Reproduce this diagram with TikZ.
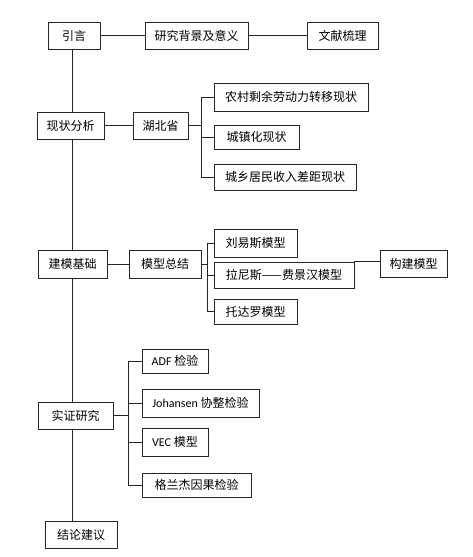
\documentclass[tikz,border=0pt]{standalone}
\usepackage{fontspec}
\setmainfont{Noto Sans CJK SC}
\newfontfamily\latinfont{Carlito}
\usetikzlibrary{positioning,backgrounds}

\begin{document}
\begin{tikzpicture}[x=1pt,y=-1pt,% one unit is one pixel of the reference, y runs down
        every node/.style={font=\fontsize{12}{14}\selectfont},
        box/.style={draw=black!85, line width=0.9pt, fill=white, inner sep=0pt},
        link/.style={draw=black!85, line width=0.9pt}]
\useasboundingbox (0,0) rectangle (472,557);

% left column
\node[box, minimum width=52, minimum height=27] (yinyan) at (74,35.5) {引言};
\node[box, minimum width=67, minimum height=27] (xianzhuang) at (70.5,125.5) {现状分析};
\node[box, minimum width=69, minimum height=28] (jianmo) at (72.5,264) {建模基础};
\node[box, minimum width=75, minimum height=27] (shizheng) at (75.5,415.5) {实证研究};
\node[box, minimum width=72, minimum height=27] (jielun) at (81,534.5) {结论建议};

% first row
\node[box, minimum width=103, minimum height=27] (beijing) at (196.5,35.5) {研究背景及意义};
\node[box, minimum width=71, minimum height=27] (wenxian) at (342.5,35.5) {文献梳理};

% status
\node[box, minimum width=55, minimum height=27] (hubei) at (160.5,125.5) {湖北省};
\node[box, minimum width=154, minimum height=28] (nongcun) at (291,97) {农村剩余劳动力转移现状};
\node[box, minimum width=85, minimum height=24] (chengzhen) at (256.5,137) {城镇化现状};
\node[box, minimum width=142, minimum height=26] (chengxiang) at (285,177) {城乡居民收入差距现状};

% models
\node[box, minimum width=72, minimum height=28] (zongjie) at (165,264) {模型总结};
\node[box, minimum width=83, minimum height=28] (lewis) at (255.5,243) {刘易斯模型};
\node[box, minimum width=140, minimum height=26] (ranis) at (284,275) {拉尼斯——费景汉模型};
\node[box, minimum width=83, minimum height=25] (todaro) at (255.5,311.5) {托达罗模型};
\node[box, minimum width=67, minimum height=27] (goujian) at (413.5,263.5) {构建模型};

% tests
\node[box, minimum width=66, minimum height=24] (adf) at (175,361) {{\latinfont ADF} 检验};
\node[box, minimum width=117, minimum height=28] (johansen) at (200.5,403) {{\latinfont Johansen} 协整检验};
\node[box, minimum width=66, minimum height=28] (vec) at (175,442) {{\latinfont VEC} 模型};
\node[box, minimum width=109, minimum height=24] (granger) at (196.5,485) {格兰杰因果检验};

% branch columns
\coordinate (spine) at (72,0);
\coordinate (fork1) at (201,0);
\coordinate (fork2) at (207,0);
\coordinate (fork3) at (128,0);

\begin{scope}[on background layer]
\fill[white] (0,0) rectangle (472,557);
\draw[link] (yinyan.south -| spine) -- (jielun.north -| spine); % main line behind the boxes
\end{scope}

\draw[link] (yinyan) -- (beijing);
\draw[link] (beijing) -- (wenxian);
\draw[link] (xianzhuang) -- (hubei);
\draw[link] (jianmo) -- (zongjie);

\draw[link] (hubei.east) -- (hubei.east -| fork1);
\foreach \n in {nongcun,chengzhen,chengxiang}{ % status branches
\draw[link] (hubei.east -| fork1) |- (\n.west);
 }

\draw[link] (zongjie.east) -- (zongjie.east -| fork2);
\foreach \n in {lewis,ranis,todaro}{ % model branches
\draw[link] (zongjie.east -| fork2) |- (\n.west);
 }
\draw[link] (ranis.north east) -- (ranis.north east -| goujian.west);

\draw[link] (shizheng.east) -- (shizheng.east -| fork3);
\foreach \n in {adf,johansen,vec,granger}{ % test branches
\draw[link] (shizheng.east -| fork3) |- (\n.west);
 }

\end{tikzpicture}
\end{document}
